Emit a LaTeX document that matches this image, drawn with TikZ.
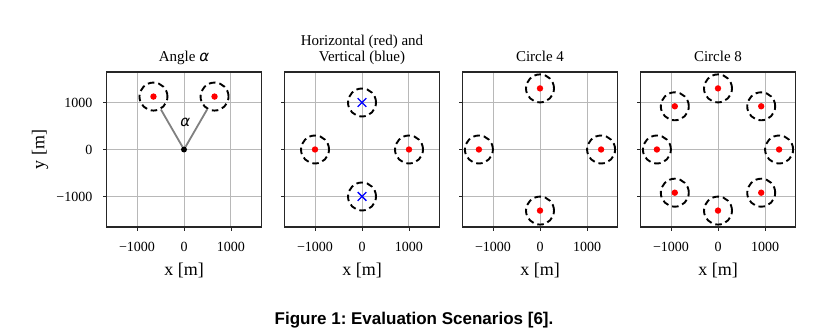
\documentclass[tikz,border=0pt]{standalone}
\usepackage{fontspec}
\setmainfont{Liberation Serif}
\newfontfamily\capfont{Liberation Sans}
\newfontfamily\greekfont{DejaVu Sans}
\usepackage{tikz}
\definecolor{gridgray}{HTML}{B8B8B8}
\definecolor{raygray}{HTML}{808080}
\definecolor{framegray}{HTML}{262626}

% axes of one panel, #1 = prefix for node names
\newcommand{\drawaxes}[1]{%
  \foreach \t/\l [count=\i] in {-1000/−1000, 0/0, 1000/1000} {
    \draw[gridline] (\t,-1650) -- (\t,1650);
    \draw[gridline] (-1650,\t) -- (1650,\t);
    \draw[tickmark] (\t,-1650) -- ++(0,-3.5pt);
    \draw[tickmark] (-1650,\t) -- ++(-3.5pt,0);
    \node[ticklab, anchor=base, yshift=-24pt] (#1x\i) at (\t,-1650) {\l};
  }
  \draw[axisframe] (-1650,-1650) rectangle (1650,1650);
  \node[axlab, anchor=base, yshift=-48pt] (#1xlab) at (0,-1650) {x [m]};
}

\begin{document}
\begin{tikzpicture}[x=1pt, y=1pt,
  gridline/.style={draw=gridgray, line width=1pt},
  axisframe/.style={draw=framegray, line width=1.3pt},
  tickmark/.style={draw=framegray, line width=0.9pt},
  ticklab/.style={inner sep=0pt, font=\fontsize{14}{16}\selectfont},
  axlab/.style={inner sep=0pt, font=\fontsize{18}{20}\selectfont},
  paneltitle/.style={inner sep=0pt, anchor=base, yshift=10pt, font=\fontsize{15}{15}\selectfont},
  target/.style={circle, draw=black, line width=1.9pt, dash pattern=on 6.5pt off 4pt, minimum size=28pt, inner sep=0pt},
  hit/.style={target, path picture={\fill[red] (path picture bounding box.center) circle (3.2pt);}},
  miss/.style={target, path picture={\draw[blue, solid, line width=1.4pt]
      ([shift={(-4.3pt,-4.3pt)}]path picture bounding box.center) -- ++(8.6pt,8.6pt)
      ([shift={(-4.3pt,4.3pt)}]path picture bounding box.center) -- ++(8.6pt,-8.6pt);}},
  ray/.style={draw=raygray, line width=1.8pt},
  origin/.style={circle, fill=black, inner sep=0pt, minimum size=6pt}]
  \useasboundingbox (0,0) rectangle (823,334);

  % Angle alpha
  \begin{scope}[shift={(184,184.5)}, x=0.047pt, y=0.047pt]
    \drawaxes{ang}
    \foreach \t/\l [count=\i] in {-1000/−1000, 0/0, 1000/1000}
      \node[ticklab, anchor=east, xshift=-14pt] (angy\i) at (-1650,\t) {\l};
    \node[axlab, rotate=90] (angylab) at (-3064,0) {y [m]};
    \node[paneltitle] (angtitle) at (0,1650) {Angle {\greekfont\itshape α}};
    \node[origin] (o) at (0,0) {};
    \node[hit] (a1) at (-650,1126) {};
    \node[hit] (a2) at (650,1126) {};
    \draw[ray] (o) -- (a1);
    \draw[ray] (o) -- (a2);
    \node[font=\fontsize{15}{15}\greekfont\itshape] (alpha) at (30,580) {α};
  \end{scope}

  % Horizontal and vertical
  \begin{scope}[shift={(362,184.5)}, x=0.047pt, y=0.047pt]
    \drawaxes{hv}
    \node[paneltitle] (hvtitle) at (0,1650) {\shortstack{Horizontal (red) and\\Vertical (blue)}};
    \node[hit] (h1) at (-1000,0) {};
    \node[hit] (h2) at (1000,0) {};
    \node[miss] (v1) at (0,1000) {};
    \node[miss] (v2) at (0,-1000) {};
  \end{scope}

  % Circle 4
  \begin{scope}[shift={(540,184.5)}, x=0.047pt, y=0.047pt]
    \drawaxes{cf}
    \node[paneltitle] (cftitle) at (0,1650) {Circle 4};
    \foreach \a [count=\i] in {0,90,180,270}
      \node[hit] (cf\i) at (\a:1300) {};
  \end{scope}

  % Circle 8
  \begin{scope}[shift={(718,184.5)}, x=0.047pt, y=0.047pt]
    \drawaxes{ce}
    \node[paneltitle] (cetitle) at (0,1650) {Circle 8};
    \foreach \a [count=\i] in {0,45,...,315}
      \node[hit] (ce\i) at (\a:1300) {};
  \end{scope}

  \node[font=\capfont\bfseries\fontsize{17}{17}\selectfont\frenchspacing, anchor=base] (caption) at (414,9.5) {Figure 1: Evaluation Scenarios [6].};
\end{tikzpicture}
\end{document}
